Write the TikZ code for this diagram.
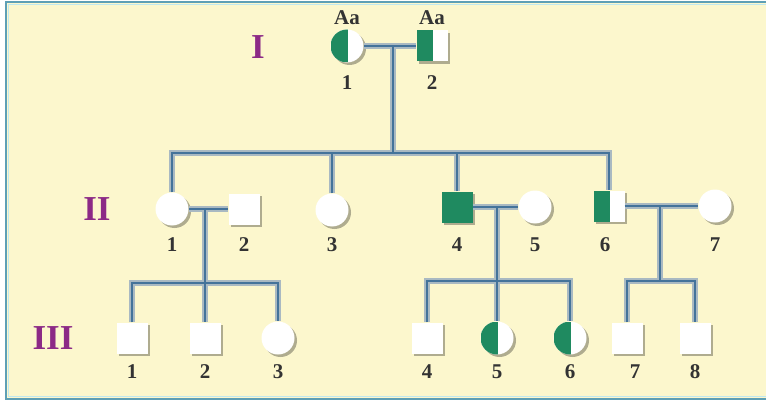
\documentclass[tikz,border=0pt]{standalone}
\usepackage{fontspec}
\setmainfont{Liberation Serif}
\usetikzlibrary{shadows,calc}
\definecolor{bg}{HTML}{FCF7CD}
\definecolor{frame}{HTML}{5E9FB5}
\definecolor{frameinner}{HTML}{BFE8F0}
\definecolor{gr}{HTML}{1F8A60}
\definecolor{lnk}{HTML}{44739A}
\definecolor{lnkhalo}{HTML}{A9B9C2}
\definecolor{roman}{HTML}{8C2A86}
\definecolor{num}{HTML}{333333}
\tikzset{
 base/.style={draw=none, fill=white, inner sep=0pt, drop shadow={shadow xshift=2.5pt, shadow yshift=-2.5pt, fill=black, opacity=0.3}},
 male/.style={base, rectangle, minimum size=31pt},
 female/.style={base, circle, minimum size=33pt},
 affected/.style={fill=gr},
 carrier/.style={path picture={\fill[gr] (path picture bounding box.south west) rectangle ($(path picture bounding box.north west)!0.52!(path picture bounding box.north east)$);}},
 halo/.style={draw=lnkhalo, line width=5.5pt},
 core/.style={draw=lnk, line width=2.4pt},
 gen/.style={text=roman, font=\bfseries\fontsize{35}{37}\selectfont},
 idn/.style={text=num, font=\bfseries\fontsize{21}{23}\selectfont},
}
\begin{document}
\begin{tikzpicture}[x=1pt,y=-1pt]
\useasboundingbox (0,0) rectangle (766,404);
\fill[white] (0,0) rectangle (766,404);
\fill[bg] (7,3) rectangle (766,398);
\draw[frameinner, line width=1.5pt] (8.5,4.5) rectangle (780,396.5);
\draw[frame, line width=2pt] (6,2) rectangle (780,399);

% generation labels
\node[gen] (gI) at (258,47) {I};
\node[gen] (gII) at (97,209) {II};
\node[gen] (gIII) at (53,338) {III};

% generation I
\node[female,carrier] (I1) at (347,46) {};
\node[male,carrier] (I2) at (432,46) {};
\node[idn] (aa1) at (347,18) {Aa};
\node[idn] (aa2) at (432,18) {Aa};
\node[idn] (nI1) at (347,83) {1};
\node[idn] (nI2) at (432,83) {2};

% generation II
\node[female] (II1) at (172,209) {};
\node[male] (II2) at (244,209) {};
\node[female] (II3) at (332,210) {};
\node[male,affected] (II4) at (457,207) {};
\node[female] (II5) at (535,207) {};
\node[male,carrier] (II6) at (609,206) {};
\node[female] (II7) at (715,206) {};
\node[idn] (nII1) at (172,245) {1};
\node[idn] (nII2) at (244,245) {2};
\node[idn] (nII3) at (332,245) {3};
\node[idn] (nII4) at (457,245) {4};
\node[idn] (nII5) at (535,245) {5};
\node[idn] (nII6) at (605,245) {6};
\node[idn] (nII7) at (715,245) {7};

% generation III
\node[male] (III1) at (132,338) {};
\node[male] (III2) at (205,338) {};
\node[female] (III3) at (278,338) {};
\node[male] (III4) at (427,338) {};
\node[female,carrier] (III5) at (497,338) {};
\node[female,carrier] (III6) at (570,338) {};
\node[male] (III7) at (627,338) {};
\node[male] (III8) at (695,338) {};
\node[idn] (nIII1) at (132,372) {1};
\node[idn] (nIII2) at (205,372) {2};
\node[idn] (nIII3) at (278,372) {3};
\node[idn] (nIII4) at (427,372) {4};
\node[idn] (nIII5) at (497,372) {5};
\node[idn] (nIII6) at (570,372) {6};
\node[idn] (nIII7) at (635,372) {7};
\node[idn] (nIII8) at (695,372) {8};

% junction coordinates
\coordinate (j1) at (393,46);
\coordinate (s1) at (393,153);
\coordinate (j2) at (205,209);
\coordinate (s2) at (205,283);
\coordinate (j3) at (497,207);
\coordinate (s3) at (497,281);
\coordinate (j4) at (660,206);
\coordinate (s4) at (660,281);

\foreach \st in {halo,core}{
 \draw[\st] (I1.east) -- (I2.west);
 \draw[\st] (j1) -- (s1);
 \draw[\st] (II1.north) |- (s1) -| (II6.north);
 \draw[\st] (II3.north) -- (II3.north |- s1);
 \draw[\st] (II4.north) -- (II4.north |- s1);
 \draw[\st] (II1.east) -- (II2.west);
 \draw[\st] (j2) -- (III2.north);
 \draw[\st] (III1.north) |- (s2) -| (III3.north);
 \draw[\st] (II4.east) -- (II5.west);
 \draw[\st] (j3) -- (III5.north);
 \draw[\st] (III4.north) |- (s3) -| (III6.north);
 \draw[\st] (II6.east) -- (II7.west);
 \draw[\st] (j4) -- (s4);
 \draw[\st] (III7.north) |- (s4) -| (III8.north);
}
\end{tikzpicture}
\end{document}
